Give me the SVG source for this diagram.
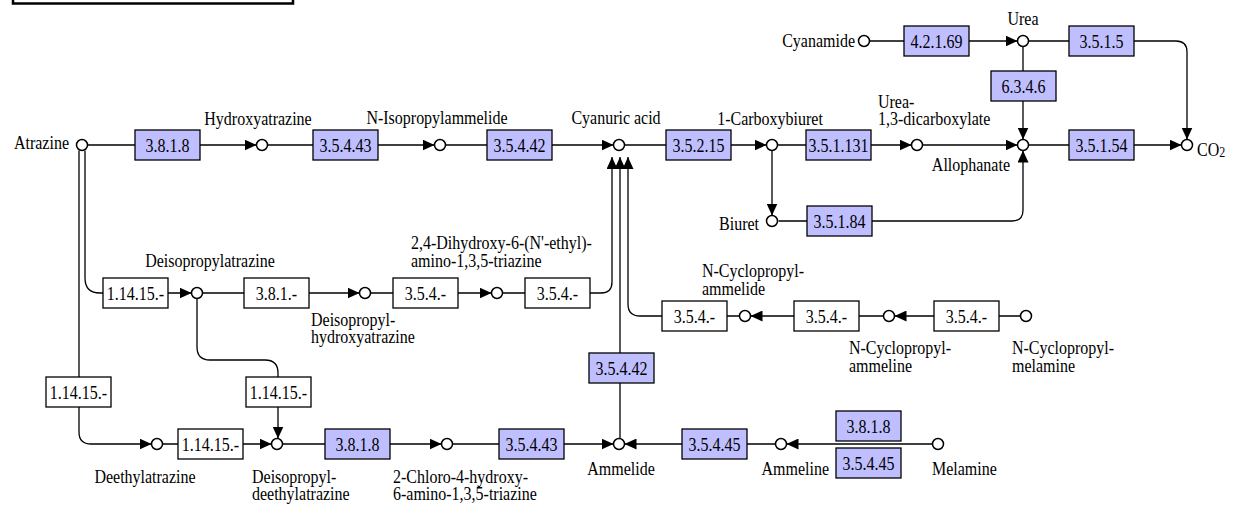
<svg xmlns="http://www.w3.org/2000/svg" width="1235" height="505" viewBox="0 0 1235 505">
<style>
.ln{fill:none;stroke:#000;stroke-width:1.3}
.cp{fill:#fff;stroke:#000;stroke-width:1.5}
.en{fill:#bfbfff;stroke:#000;stroke-width:1.3}
.ew{fill:#fff;stroke:#000;stroke-width:1.3}
.t{font-family:"Liberation Serif","Tinos","Times New Roman","DejaVu Serif",serif;font-size:16px;fill:#000}
.m{text-anchor:middle}
.e{text-anchor:end}
</style>
<defs>
<marker id="ah" markerWidth="13" markerHeight="11" refX="12" refY="5.5" orient="auto" markerUnits="userSpaceOnUse"><path d="M0,0 L12,5.5 L0,11 Z" fill="#000"/></marker>
</defs>
<rect width="1235" height="505" fill="#fff"/>
<rect x="13" y="-20" width="280" height="23.5" fill="#fff" stroke="#000" stroke-width="2.5"/>

<g id="connectors" class="ln" marker-end="url(#ah)">
<path d="M87.5,145 H256.5"/>
<path d="M267.5,145 H434.5"/>
<path d="M445.5,145 H613.5"/>
<path d="M624.5,145 H766.5"/>
<path d="M777.5,145 H911.5"/>
<path d="M922.5,145 H1017.5"/>
<path d="M1028.5,145 H1181.5"/>
<path d="M869.5,41 H1017.5"/>
<path d="M1028.5,41 H1176 Q1187,41 1187,52 V139.5"/>
<path d="M1023,46.5 V139.5"/>
<path d="M772,150.5 V215.5"/>
<path d="M778.5,221 H1012 Q1023,221 1023,210 V150.5"/>
<path d="M85,150.5 V278 Q85,293 100,293 H191.5"/>
<path d="M79,150.5 V432 Q79,444 91,444 H151.5"/>
<path d="M202.5,293 H359.5"/>
<path d="M370.5,293 H491.5"/>
<path d="M502.5,293 H601 Q612,293 612,282 V157"/>
<path d="M197,298.5 V347 Q197,360 210,360 H265 Q278,360 278,373 V438.5"/>
<path d="M162.5,444 H271.5"/>
<path d="M282.5,444 H441.5"/>
<path d="M452.5,444 H613.5"/>
<path d="M775.5,444 H624.5"/>
<path d="M932.5,444 H786.5"/>
<path d="M620,438.5 V157"/>
<path d="M1020.5,316 H894.5"/>
<path d="M883.5,316 H750.5"/>
<path d="M739.5,316 H640 Q628,316 628,304 V157"/>
</g>

<g id="c-atrazine"><circle class="cp" cx="82" cy="145" r="5.5"/><text class="t e" transform="translate(69 149) scale(1 1.2)">Atrazine</text></g>
<g id="c-hydroxyatrazine"><circle class="cp" cx="262" cy="145" r="5.5"/><text class="t m" transform="translate(258 125) scale(1 1.2)">Hydroxyatrazine</text></g>
<g id="c-nisopropylammelide"><circle class="cp" cx="440" cy="145" r="5.5"/><text class="t m" transform="translate(437 124) scale(1 1.2)">N-Isopropylammelide</text></g>
<g id="c-cyanuric"><circle class="cp" cx="619" cy="145" r="5.5"/><text class="t m" transform="translate(616 124) scale(1 1.2)">Cyanuric acid</text></g>
<g id="c-carboxybiuret"><circle class="cp" cx="772" cy="145" r="5.5"/><text class="t m" transform="translate(770 125) scale(1 1.2)">1-Carboxybiuret</text></g>
<g id="c-ureadicarb"><circle class="cp" cx="917" cy="145" r="5.5"/><text class="t" transform="translate(878 108) scale(1 1.2)">Urea-</text><text class="t" transform="translate(878 125) scale(1 1.2)">1,3-dicarboxylate</text></g>
<g id="c-allophanate"><circle class="cp" cx="1023" cy="145" r="5.5"/><text class="t e" transform="translate(1010 171) scale(1 1.2)">Allophanate</text></g>
<g id="c-co2"><circle class="cp" cx="1187" cy="145" r="5.5"/><text class="t" transform="translate(1197 156) scale(1 1.2)">CO<tspan font-size="12" dy="1">2</tspan></text></g>
<g id="c-cyanamide"><circle class="cp" cx="864" cy="41" r="5.5"/><text class="t e" transform="translate(855 47) scale(1 1.2)">Cyanamide</text></g>
<g id="c-urea"><circle class="cp" cx="1023" cy="41" r="5.5"/><text class="t m" transform="translate(1023 25) scale(1 1.2)">Urea</text></g>
<g id="c-biuret"><circle class="cp" cx="772" cy="221" r="5.5"/><text class="t e" transform="translate(759 230) scale(1 1.2)">Biuret</text></g>
<g id="c-deisopropylatrazine"><circle class="cp" cx="197" cy="293" r="5.5"/><text class="t m" transform="translate(210 267) scale(1 1.2)">Deisopropylatrazine</text></g>
<g id="c-deisopropylhydroxyatrazine"><circle class="cp" cx="365" cy="293" r="5.5"/><text class="t" transform="translate(311 326) scale(1 1.2)">Deisopropyl-</text><text class="t" transform="translate(311 343) scale(1 1.2)">hydroxyatrazine</text></g>
<g id="c-dihydroxy"><circle class="cp" cx="497" cy="293" r="5.5"/><text class="t" transform="translate(411 249) scale(1 1.2)">2,4-Dihydroxy-6-(N'-ethyl)-</text><text class="t" transform="translate(411 267) scale(1 1.2)">amino-1,3,5-triazine</text></g>
<g id="c-ncpammelide"><circle class="cp" cx="745" cy="316" r="5.5"/><text class="t" transform="translate(702 277) scale(1 1.2)">N-Cyclopropyl-</text><text class="t" transform="translate(702 295) scale(1 1.2)">ammelide</text></g>
<g id="c-ncpammeline"><circle class="cp" cx="889" cy="316" r="5.5"/><text class="t" transform="translate(849 354) scale(1 1.2)">N-Cyclopropyl-</text><text class="t" transform="translate(849 372) scale(1 1.2)">ammeline</text></g>
<g id="c-ncpmelamine"><circle class="cp" cx="1026" cy="316" r="5.5"/><text class="t" transform="translate(1012 354) scale(1 1.2)">N-Cyclopropyl-</text><text class="t" transform="translate(1012 372) scale(1 1.2)">melamine</text></g>
<g id="c-deethylatrazine"><circle class="cp" cx="157" cy="444" r="5.5"/><text class="t m" transform="translate(145 483) scale(1 1.2)">Deethylatrazine</text></g>
<g id="c-deisopropyldeethylatrazine"><circle class="cp" cx="277" cy="444" r="5.5"/><text class="t" transform="translate(252 483) scale(1 1.2)">Deisopropyl-</text><text class="t" transform="translate(252 500) scale(1 1.2)">deethylatrazine</text></g>
<g id="c-chlorohydroxy"><circle class="cp" cx="447" cy="444" r="5.5"/><text class="t" transform="translate(393 483) scale(1 1.2)">2-Chloro-4-hydroxy-</text><text class="t" transform="translate(393 500) scale(1 1.2)">6-amino-1,3,5-triazine</text></g>
<g id="c-ammelide"><circle class="cp" cx="619" cy="444" r="5.5"/><text class="t m" transform="translate(621 475) scale(1 1.2)">Ammelide</text></g>
<g id="c-ammeline"><circle class="cp" cx="781" cy="444" r="5.5"/><text class="t e" transform="translate(829 475) scale(1 1.2)">Ammeline</text></g>
<g id="c-melamine"><circle class="cp" cx="938" cy="444" r="5.5"/><text class="t" transform="translate(932 475) scale(1 1.2)">Melamine</text></g>

<g id="e1"><rect class="en" x="135" y="130" width="65" height="30"/><text class="t m" transform="translate(167.5 151.5) scale(1 1.2)">3.8.1.8</text></g>
<g id="e2"><rect class="en" x="313" y="130" width="65" height="30"/><text class="t m" transform="translate(345.5 151.5) scale(1 1.2)">3.5.4.43</text></g>
<g id="e3"><rect class="en" x="487" y="130" width="65" height="30"/><text class="t m" transform="translate(519.5 151.5) scale(1 1.2)">3.5.4.42</text></g>
<g id="e4"><rect class="en" x="666" y="130" width="65" height="30"/><text class="t m" transform="translate(698.5 151.5) scale(1 1.2)">3.5.2.15</text></g>
<g id="e5"><rect class="en" x="806" y="130" width="65" height="30"/><text class="t m" transform="translate(838.5 151.5) scale(1 1.2)">3.5.1.131</text></g>
<g id="e6"><rect class="en" x="1069" y="130" width="65" height="30"/><text class="t m" transform="translate(1101.5 151.5) scale(1 1.2)">3.5.1.54</text></g>
<g id="e7"><rect class="en" x="904" y="26" width="65" height="30"/><text class="t m" transform="translate(936.5 47.5) scale(1 1.2)">4.2.1.69</text></g>
<g id="e8"><rect class="en" x="1069" y="26" width="65" height="30"/><text class="t m" transform="translate(1101.5 47.5) scale(1 1.2)">3.5.1.5</text></g>
<g id="e9"><rect class="en" x="991" y="71" width="65" height="30"/><text class="t m" transform="translate(1023.5 92.5) scale(1 1.2)">6.3.4.6</text></g>
<g id="e10"><rect class="en" x="807" y="206" width="65" height="30"/><text class="t m" transform="translate(839.5 227.5) scale(1 1.2)">3.5.1.84</text></g>
<g id="e11"><rect class="en" x="589" y="353" width="65" height="30"/><text class="t m" transform="translate(621.5 374.5) scale(1 1.2)">3.5.4.42</text></g>
<g id="e12"><rect class="en" x="325" y="429" width="65" height="30"/><text class="t m" transform="translate(357.5 450.5) scale(1 1.2)">3.8.1.8</text></g>
<g id="e13"><rect class="en" x="499" y="429" width="65" height="30"/><text class="t m" transform="translate(531.5 450.5) scale(1 1.2)">3.5.4.43</text></g>
<g id="e14"><rect class="en" x="682" y="429" width="65" height="30"/><text class="t m" transform="translate(714.5 450.5) scale(1 1.2)">3.5.4.45</text></g>
<g id="e15"><rect class="en" x="836" y="411" width="65" height="30"/><text class="t m" transform="translate(868.5 432.5) scale(1 1.2)">3.8.1.8</text></g>
<g id="e16"><rect class="en" x="836" y="448" width="65" height="30"/><text class="t m" transform="translate(868.5 469.5) scale(1 1.2)">3.5.4.45</text></g>
<g id="e17"><rect class="ew" x="103" y="278" width="65" height="30"/><text class="t m" transform="translate(135.5 299.5) scale(1 1.2)">1.14.15.-</text></g>
<g id="e18"><rect class="ew" x="244" y="278" width="65" height="30"/><text class="t m" transform="translate(276.5 299.5) scale(1 1.2)">3.8.1.-</text></g>
<g id="e19"><rect class="ew" x="393" y="278" width="65" height="30"/><text class="t m" transform="translate(425.5 299.5) scale(1 1.2)">3.5.4.-</text></g>
<g id="e20"><rect class="ew" x="525" y="278" width="65" height="30"/><text class="t m" transform="translate(557.5 299.5) scale(1 1.2)">3.5.4.-</text></g>
<g id="e21"><rect class="ew" x="662" y="301" width="65" height="30"/><text class="t m" transform="translate(694.5 322.5) scale(1 1.2)">3.5.4.-</text></g>
<g id="e22"><rect class="ew" x="794" y="301" width="65" height="30"/><text class="t m" transform="translate(826.5 322.5) scale(1 1.2)">3.5.4.-</text></g>
<g id="e23"><rect class="ew" x="934" y="301" width="65" height="30"/><text class="t m" transform="translate(966.5 322.5) scale(1 1.2)">3.5.4.-</text></g>
<g id="e24"><rect class="ew" x="46" y="377" width="65" height="30"/><text class="t m" transform="translate(78.5 398.5) scale(1 1.2)">1.14.15.-</text></g>
<g id="e25"><rect class="ew" x="246" y="377" width="65" height="30"/><text class="t m" transform="translate(278.5 398.5) scale(1 1.2)">1.14.15.-</text></g>
<g id="e26"><rect class="ew" x="178" y="429" width="65" height="30"/><text class="t m" transform="translate(210.5 450.5) scale(1 1.2)">1.14.15.-</text></g>
</svg>
